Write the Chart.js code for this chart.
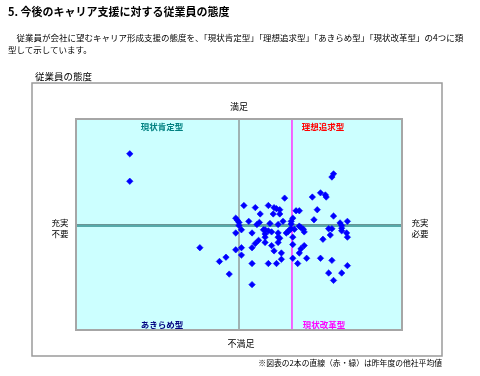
<!DOCTYPE html>
<html>
<head>
<meta charset="utf-8">
<script src="https://cdn.jsdelivr.net/npm/chart.js@4"></script>
<style>
  body { margin: 0; background: #fff; font-family: "Noto Sans CJK JP", sans-serif; }
  #wrap { position: relative; width: 480px; height: 376px; overflow: hidden; }
  canvas { position: absolute; left: 0; top: 0; }
  .t { position: absolute; white-space: nowrap; color: #000; line-height: 1; }
  .c { transform: translate(-50%, -50%); text-align: center; }
  .q { font-weight: bold; font-size: 8.5px; }
</style>
</head>
<body>
<div id="wrap">
  <canvas id="chart" width="480" height="376"></canvas>
  <div class="t" style="left:8px;top:6px;font-size:11px;font-weight:bold">5. 今後のキャリア支援に対する従業員の態度</div>
  <div class="t" style="left:8px;top:33px;font-size:8.5px">　従業員が会社に望むキャリア形成支援の態度を、「現状肯定型」「理想追求型」「あきらめ型」「現状改革型」の4つに類</div>
  <div class="t" style="left:8px;top:45px;font-size:8.5px">型して示しています。</div>
  <div class="t" style="left:35px;top:72px;font-size:9.5px">従業員の態度</div>
  <div class="t c" style="left:239px;top:106px;font-size:9px">満足</div>
  <div class="t c" style="left:241px;top:343px;font-size:9px">不満足</div>
  <div class="t c" style="left:60px;top:228px;font-size:8.5px;line-height:1.25">充実<br>不要</div>
  <div class="t c" style="left:420px;top:228px;font-size:8.5px;line-height:1.25">充実<br>必要</div>
  <div class="t c q" style="left:162px;top:126px;color:#008080">現状肯定型</div>
  <div class="t c q" style="left:323px;top:126px;color:#ff0000">理想追求型</div>
  <div class="t c q" style="left:162px;top:324px;color:#000080">あきらめ型</div>
  <div class="t c q" style="left:324px;top:324px;color:#ff00ff">現状改革型</div>
  <div class="t" style="right:38px;top:359px;font-size:7.8px">※図表の2本の直線（赤・緑）は昨年度の他社平均値</div>
</div>
<script>
// 充実(不要 -> 必要) on x, 満足(不満足 -> 満足) on y
const xs = [-67, -67, -24, -8, -12, -6, -2, -1, 0, 0, -2, 1.5, -2, 1.5, 1.5, 3, 6, 8, 8, 8, 8,
  10, 13, 11, 12.5, 12, 10, 15, 16, 18, 20, 16, 16, 16, 18, 21.5, 23, 25, 21, 25, 19, 24, 27,
  24, 24, 25, 20, 24, 21.5, 26, 26, 18, 23, 28, 29, 30, 31, 32, 32, 32, 33, 33, 33, 33, 34,
  37, 38, 39.5, 40, 35, 37, 40, 38, 37, 41.5, 36, 45, 50, 53, 53.5, 48, 46, 58, 57, 58, 55,
  57, 62, 63, 63, 63, 66, 66.5, 56, 51.5, 66.5, 50, 57, 66.5, 55, 63, 58];
const ys = [67, 41, -22, -31, -35, -47, 6, 4, 2, -1, -8, -5, -24, -22, -29, 18, 3, -8, -22, -37, -57,
  16, 10, 0, 2, -15, -18, -5, -5, -6, -7, -9, -12, -17, 18, 16, 15, 14, 10, 10, 1, 0, 3,
  -8, -12, -13, -20, -17, -25, -27, -33, -37, -37, 25, -8, -7, -5, -4, 0.5, 3, 6, -32, -12, -19, -4.5,
  -1.5, -3, -4.5, -7, 13, 13, -20, -23, -27, -32, -37, 26, 30, 28, 26, 14, 4.5, 8, 45, 48, -4,
  -4, 1.5, -1, -3.5, -6, -8, 3, -10, -14, -12, -32, -34, -39, -46, -46, -53];

// 昨年度の他社平均値
const avgX = 32.5;
const avgY = -1.2;

const axisMin = -100;
const axisMax = 100;

const points = xs.map((x, i) => ({ x: x, y: ys[i] }));

const frame = {
  id: "frame",
  beforeDraw(chart) {
    const c = chart.ctx;
    const a = chart.chartArea;
    c.save();
    c.fillStyle = "#fff";
    c.fillRect(0, 0, chart.width, chart.height);
    c.strokeStyle = "#9a9a9a";
    c.lineWidth = 1.5;
    c.strokeRect(32, 83, 410, 273);
    c.fillStyle = "#ccffff";
    c.fillRect(a.left, a.top, a.right - a.left, a.bottom - a.top);
    c.restore();
  },
  afterDatasetsDraw(chart) {
    const c = chart.ctx;
    const a = chart.chartArea;
    c.save();
    c.strokeStyle = "#a6a6a6";
    c.lineWidth = 2;
    c.strokeRect(a.left, a.top, a.right - a.left, a.bottom - a.top);
    c.restore();
  },
};

const vline = (x) => [{ x: x, y: axisMin }, { x: x, y: axisMax }];
const hline = (y) => [{ x: axisMin, y: y }, { x: axisMax, y: y }];

new Chart(document.getElementById("chart"), {
  type: "scatter",
  data: {
    datasets: [
      {
        data: points,
        pointStyle: "rectRot",
        pointRadius: 3.2,
        backgroundColor: "#0000ff",
        borderColor: "#0000ff",
        borderWidth: 0.6,
        order: 0,
      },
      { data: vline(avgX), showLine: true, borderColor: "#ff33ff", borderWidth: 1.5, pointRadius: 0, order: 1 },
      { data: hline(avgY), showLine: true, borderColor: "#55aaaa", borderWidth: 2.5, pointRadius: 0, order: 2 },
      { data: vline(0), showLine: true, borderColor: "#808080", borderWidth: 1.2, pointRadius: 0, order: 3 },
      { data: hline(0), showLine: true, borderColor: "#808080", borderWidth: 1.2, pointRadius: 0, order: 4 },
    ],
  },
  options: {
    responsive: false,
    animation: false,
    layout: { padding: { left: 76, top: 119, right: 78, bottom: 46 } },
    plugins: { legend: { display: false }, tooltip: { enabled: false } },
    scales: {
      x: { type: "linear", min: axisMin, max: axisMax, display: false },
      y: { type: "linear", min: axisMin, max: axisMax, display: false },
    },
  },
  plugins: [frame],
});
</script>
</body>
</html>
